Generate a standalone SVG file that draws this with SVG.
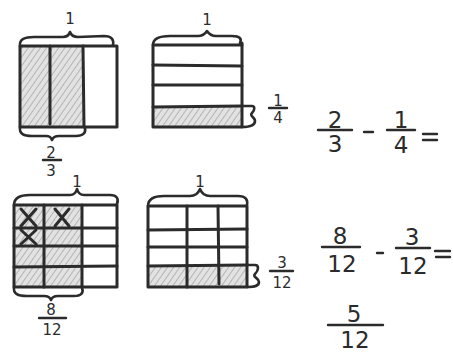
<svg xmlns="http://www.w3.org/2000/svg" width="453" height="352" viewBox="0 0 453 352">
<defs>
<pattern id="hatch" width="5" height="5" patternUnits="userSpaceOnUse" patternTransform="rotate(35)">
<rect width="5" height="5" fill="#e2e2e2"/>
<line x1="0" y1="0" x2="0" y2="5" stroke="#b4b4b4" stroke-width="2"/>
</pattern>
</defs>
<style>
.ln{fill:none;stroke:#2b2b2b;stroke-width:3;stroke-linecap:round;stroke-linejoin:round}
.br{fill:none;stroke:#2b2b2b;stroke-width:2.6;stroke-linecap:round;stroke-linejoin:round}
.sh{fill:url(#hatch);stroke:none}
.t{font-family:"DejaVu Sans","Liberation Sans",sans-serif;fill:#2b2b2b;text-anchor:middle}
.s{font-size:15px}
.m{font-size:23px}
.bar{stroke:#2b2b2b;stroke-width:2.4;stroke-linecap:round}
</style>
<rect width="453" height="352" fill="#fff"/>

<g id="thirds">
<rect class="sh" x="21" y="46" width="62" height="81"/>
<rect class="ln" x="20" y="46" width="97" height="81"/>
<line class="ln" x1="50" y1="46" x2="50" y2="124"/>
<line class="ln" x1="83" y1="46" x2="84" y2="127"/>
<path class="br" d="M20,46 C19,39 25,37 34,37 L63,37 C67,37 69,35 70,32 C71,35 73,37 78,37 L104,36 C112,36 114,40 113,45"/>
<text class="t s" x="70" y="24">1</text>
<path class="br" d="M20,127 C19,134 24,136 32,136 L46,136 C50,136 51,137 52,140 C53,137 55,136 59,136 L76,136 C83,136 86,133 85,128"/>
<text class="t s" x="51" y="158">2</text>
<line class="bar" x1="43" y1="160" x2="61" y2="160"/>
<text class="t s" x="51" y="176">3</text>
</g>

<g id="quarters">
<rect class="sh" x="154" y="107" width="88" height="20"/>
<rect class="ln" x="153" y="45" width="89" height="82"/>
<line class="ln" x1="242" y1="43" x2="242" y2="45"/>
<line class="ln" x1="153" y1="65" x2="242" y2="66"/>
<line class="ln" x1="153" y1="85" x2="242" y2="85"/>
<line class="ln" x1="153" y1="107" x2="242" y2="106"/>
<path class="br" d="M153,45 C153,38 160,36 170,36 L198,36 C203,36 205,34 207,31 C209,34 211,36 216,36 L232,36 C240,36 242,39 240,43"/>
<text class="t s" x="207" y="25">1</text>
<path class="br" d="M242,106 L252,106 C255,106 255,110 252,113 C249,116 255,117 255,121 C255,125 252,127 242,127"/>
<text class="t s" x="278" y="106">1</text>
<line class="bar" x1="269" y1="108" x2="287" y2="108"/>
<text class="t s" x="278" y="123">4</text>
</g>

<g id="twelfths-a">
<rect class="sh" x="14" y="206" width="68" height="80"/>
<rect class="ln" x="14" y="205" width="103" height="82"/>
<line class="ln" x1="44" y1="205" x2="44" y2="287"/>
<line class="ln" x1="82" y1="205" x2="82" y2="287"/>
<line class="ln" x1="14" y1="228" x2="117" y2="228"/>
<line class="ln" x1="14" y1="246" x2="117" y2="246"/>
<line class="ln" x1="14" y1="267" x2="117" y2="266"/>
<path class="ln" d="M21,209 L36,226 M36,209 L21,226"/>
<path class="ln" d="M55,209 L69,226 M69,209 L55,226"/>
<path class="ln" d="M21,230 L36,244 M36,230 L21,244"/>
<path class="br" d="M14,205 C14,198 20,195 30,195 L70,195 C74,195 76,193 77,189 C78,193 80,195 84,195 L110,195 C117,195 119,199 117,204"/>
<text class="t s" x="77" y="187">1</text>
<path class="br" d="M14,287 C13,294 18,296 27,296 L44,296 C48,296 50,297 51,300 C52,297 54,296 58,296 L74,296 C81,296 84,293 82,288"/>
<text class="t s" x="51" y="315">8</text>
<line class="bar" x1="39" y1="318" x2="66" y2="318"/>
<text class="t s" x="52" y="335">12</text>
</g>

<g id="twelfths-b">
<rect class="sh" x="149" y="266" width="98" height="21"/>
<rect class="ln" x="148" y="206" width="99" height="81"/>
<line class="ln" x1="187" y1="206" x2="187" y2="287"/>
<line class="ln" x1="218" y1="206" x2="219" y2="284"/>
<line class="ln" x1="148" y1="230" x2="247" y2="229"/>
<line class="ln" x1="148" y1="247" x2="247" y2="247"/>
<line class="ln" x1="148" y1="266" x2="247" y2="265"/>
<path class="br" d="M148,206 C148,199 154,196 164,196 L190,196 C195,196 198,194 200,189 C202,194 205,196 210,196 L238,196 C246,196 248,200 247,205"/>
<text class="t s" x="200" y="187">1</text>
<path class="br" d="M247,265 L255,265 C259,265 259,270 255,274 C252,277 259,278 259,282 C259,286 255,287 247,287"/>
<text class="t s" x="282" y="268">3</text>
<line class="bar" x1="270" y1="271" x2="293" y2="271"/>
<text class="t s" x="282" y="288">12</text>
</g>

<g id="equation-1">
<text class="t m" x="335" y="128">2</text>
<line class="bar" x1="318" y1="130" x2="352" y2="130"/>
<text class="t m" x="335" y="152">3</text>
<line class="bar" x1="364" y1="132" x2="373" y2="132"/>
<text class="t m" x="401" y="128">1</text>
<line class="bar" x1="387" y1="130" x2="415" y2="130"/>
<text class="t m" x="401" y="153">4</text>
<line class="bar" x1="423" y1="134" x2="437" y2="134"/>
<line class="bar" x1="423" y1="140" x2="437" y2="140"/>
</g>

<g id="equation-2">
<text class="t m" x="340" y="244">8</text>
<line class="bar" x1="322" y1="247" x2="360" y2="247"/>
<text class="t m" x="342" y="272">12</text>
<line class="bar" x1="377" y1="253" x2="383" y2="253"/>
<text class="t m" x="412" y="245">3</text>
<line class="bar" x1="396" y1="248" x2="430" y2="248"/>
<text class="t m" x="413" y="274">12</text>
<line class="bar" x1="435" y1="251" x2="450" y2="251"/>
<line class="bar" x1="436" y1="257" x2="450" y2="257"/>
</g>

<g id="answer">
<text class="t m" x="354" y="322">5</text>
<line class="bar" x1="328" y1="325" x2="383" y2="325"/>
<text class="t m" x="355" y="348">12</text>
</g>

<g id="connectors"></g>
</svg>
